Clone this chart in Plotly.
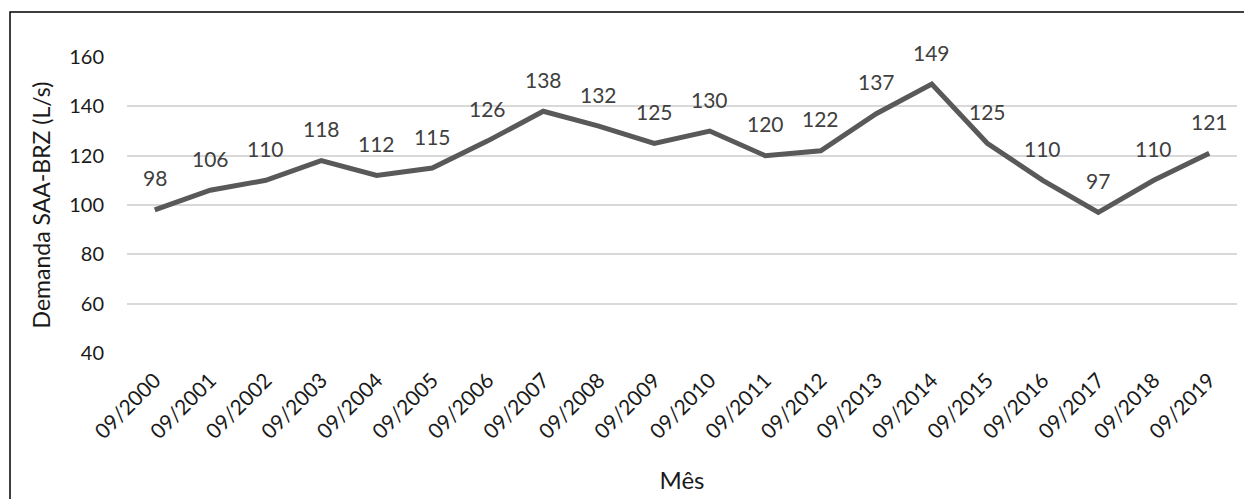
import plotly.graph_objects as go

# Monthly demand of the SAA-BRZ system, every September 2000-2019
meses = ["09/2000", "09/2001", "09/2002", "09/2003", "09/2004", "09/2005",
         "09/2006", "09/2007", "09/2008", "09/2009", "09/2010", "09/2011",
         "09/2012", "09/2013", "09/2014", "09/2015", "09/2016", "09/2017",
         "09/2018", "09/2019"]
demanda = [98, 106, 110, 118, 112, 115, 126, 138, 132, 125, 130, 120,
           122, 137, 149, 125, 110, 97, 110, 121]
y_ticks = [40, 60, 80, 100, 120, 140, 160]

FONT = "Lato, Open Sans, sans-serif"
LINE_COLOR = "#595959"
TEXT = "#1a1a1a"

fig = go.Figure()
fig.add_trace(go.Scatter(
    x=meses, y=demanda, mode="lines",
    line=dict(color=LINE_COLOR, width=5),
    hoverinfo="x+y",
))

# data labels above each point
for m, v in zip(meses, demanda):
    fig.add_annotation(
        x=m, y=v, text=str(v), showarrow=False,
        yanchor="middle", yshift=32,
        font=dict(family=FONT, size=21, color="#404040"),
    )

# chart-area border (right and bottom edges run past the page)
fig.add_shape(
    type="rect", xref="paper", yref="paper",
    x0=-0.1054, x1=1.012, y0=-0.55, y1=1.152,
    line=dict(color="black", width=1.5), fillcolor="rgba(0,0,0,0)",
    layer="below",
)

fig.update_layout(
    width=1244, height=499,
    margin=dict(l=127, r=7, t=57, b=146),
    paper_bgcolor="white", plot_bgcolor="white",
    showlegend=False,
    font=dict(family=FONT, size=20, color=TEXT),
    xaxis=dict(
        type="category", tickangle=-45,
        showgrid=False, zeroline=False, showline=False, ticks="",
        ticklabelstandoff=10,
        tickfont=dict(family=FONT, size=21, color=TEXT),
        title=dict(text="Mês", font=dict(family=FONT, size=24, color=TEXT),
                   standoff=30),
        range=[-0.5, len(meses) - 0.5],
    ),
    yaxis=dict(
        range=[40, 160], tickvals=y_ticks,
        showgrid=True, gridcolor="#d9d9d9", gridwidth=1.5,
        zeroline=False, showline=False, ticks="",
        ticklabelstandoff=22,
        tickfont=dict(family=FONT, size=20, color=TEXT),
        title=dict(text="Demanda SAA-BRZ (L/s)",
                   font=dict(family=FONT, size=23, color=TEXT),
                   standoff=12),
    ),
)

fig.write_html("out.html")
